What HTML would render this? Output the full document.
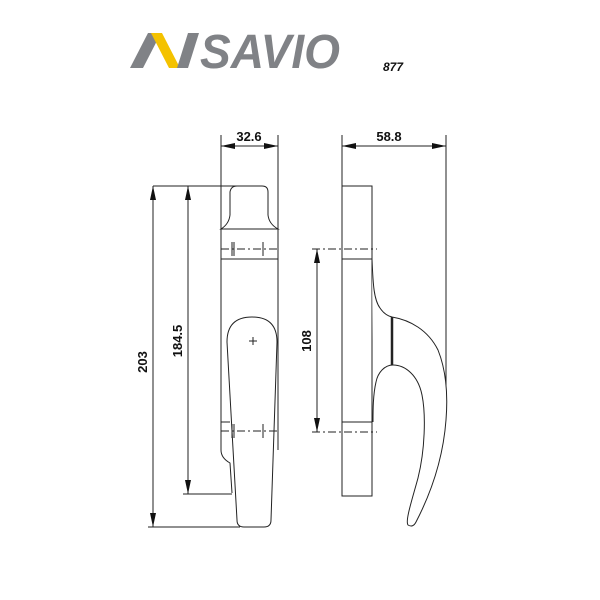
<!DOCTYPE html>
<html><head><meta charset="utf-8"><style>html,body{margin:0;padding:0;background:#fff}svg{display:block}</style></head><body>
<svg width="600" height="600" viewBox="0 0 600 600" xmlns="http://www.w3.org/2000/svg">
<rect width="600" height="600" fill="#fff"/>
<!-- logo -->
<polygon points="130,68 143,68 161,33 148,33" fill="#808286"/>
<polygon points="151,33 162,33 180,68 169,68" fill="#f4c200"/>
<polygon points="177,68 188,68 199,33 188,33" fill="#808286"/>
<text x="200" y="68" font-family="Liberation Sans, sans-serif" font-size="48" font-weight="bold" font-style="italic" fill="#808286" textLength="140" lengthAdjust="spacingAndGlyphs">SAVIO</text>
<text x="383" y="71" font-family="Liberation Sans, sans-serif" font-size="12" font-weight="bold" font-style="italic" fill="#111">877</text>

<g fill="none" stroke="#222" stroke-width="1">
<line x1="221" y1="135" x2="221" y2="450"/>
<line x1="278" y1="135" x2="278" y2="450"/>
<path d="M221,450 Q221,458 230,463 L232,493"/>
<line x1="221" y1="422" x2="230" y2="422"/>
<line x1="221" y1="259" x2="278" y2="259"/>
<path d="M221,229 Q229,224 230,215 L230,192 Q231,186 237,186 L262,186 Q268,186 268,192 L268,215 Q269,224 278,229 Z"/>
<line x1="153" y1="186" x2="237" y2="186"/>
<path d="M227,342 Q227,317 252,317 Q277,317 277,342 L271,520 Q271,527 264,527 L244,527 Q237,527 237,520 Z" fill="#fff"/>
<line x1="249" y1="341" x2="257" y2="341"/><line x1="253" y1="337" x2="253" y2="345"/>
<line x1="148" y1="527" x2="240" y2="527"/>
<line x1="183" y1="494" x2="232" y2="494"/>
<line x1="153" y1="186" x2="153" y2="527"/>
<line x1="188" y1="186" x2="188" y2="494"/>
<line x1="221" y1="146" x2="278" y2="146"/>
<rect x="342" y="186" width="30" height="310"/>
<line x1="342" y1="259" x2="372" y2="259"/>
<line x1="342" y1="422" x2="372" y2="422"/>
<line x1="342" y1="135" x2="342" y2="186"/>
<line x1="446" y1="135" x2="446" y2="393"/>
<line x1="342" y1="146" x2="446" y2="146"/>
<path d="M372,259 C373,285 374,300 380,308 C384,314 388,316 392,317 C410,320 428,330 438,350 C446,370 448,395 446,420 C443,460 430,495 416,522 Q413,528 408,525 C405,521 412,500 418,478 C425,450 426,415 422,395 C418,375 405,365 393,365 C385,365 378,372 376,382 C373,395 373,410 373,422" fill="#fff"/>
<line x1="392" y1="317" x2="392" y2="365" stroke-width="2.5"/>
<line x1="317" y1="249" x2="317" y2="432"/>
</g>
<g stroke="#222" stroke-width="1" stroke-dasharray="8,3,2,3" fill="none">
<line x1="221" y1="249" x2="278" y2="249"/>
<line x1="221" y1="431" x2="278" y2="431"/>
<line x1="312" y1="249" x2="377" y2="249"/>
<line x1="312" y1="432" x2="377" y2="432"/>
</g>
<g stroke="#222" stroke-width="1">
<line x1="232" y1="242" x2="232" y2="256"/><line x1="234" y1="242" x2="234" y2="256"/><line x1="263" y1="242" x2="263" y2="256"/>
<line x1="232" y1="424" x2="232" y2="438"/><line x1="234" y1="424" x2="234" y2="438"/><line x1="263" y1="424" x2="263" y2="438"/>
</g>
<g fill="#111">
<polygon points="153,186 150,200 156,200"/><polygon points="153,527 150,513 156,513"/>
<polygon points="188,186 185,200 191,200"/><polygon points="188,494 185,480 191,480"/>
<polygon points="317,249 314,263 320,263"/><polygon points="317,432 314,418 320,418"/>
<polygon points="221,146 235,143 235,149"/><polygon points="278,146 264,143 264,149"/>
<polygon points="342,146 356,143 356,149"/><polygon points="446,146 432,143 432,149"/>
</g>
<g font-family="Liberation Sans, sans-serif" font-size="13" font-weight="bold" fill="#111" text-anchor="middle">
<text x="249" y="141">32.6</text>
<text x="389" y="141">58.8</text>
<text transform="translate(147,362) rotate(-90)">203</text>
<text transform="translate(182,341) rotate(-90)">184.5</text>
<text transform="translate(311,341) rotate(-90)">108</text>
</g>
</svg>
</body></html>
